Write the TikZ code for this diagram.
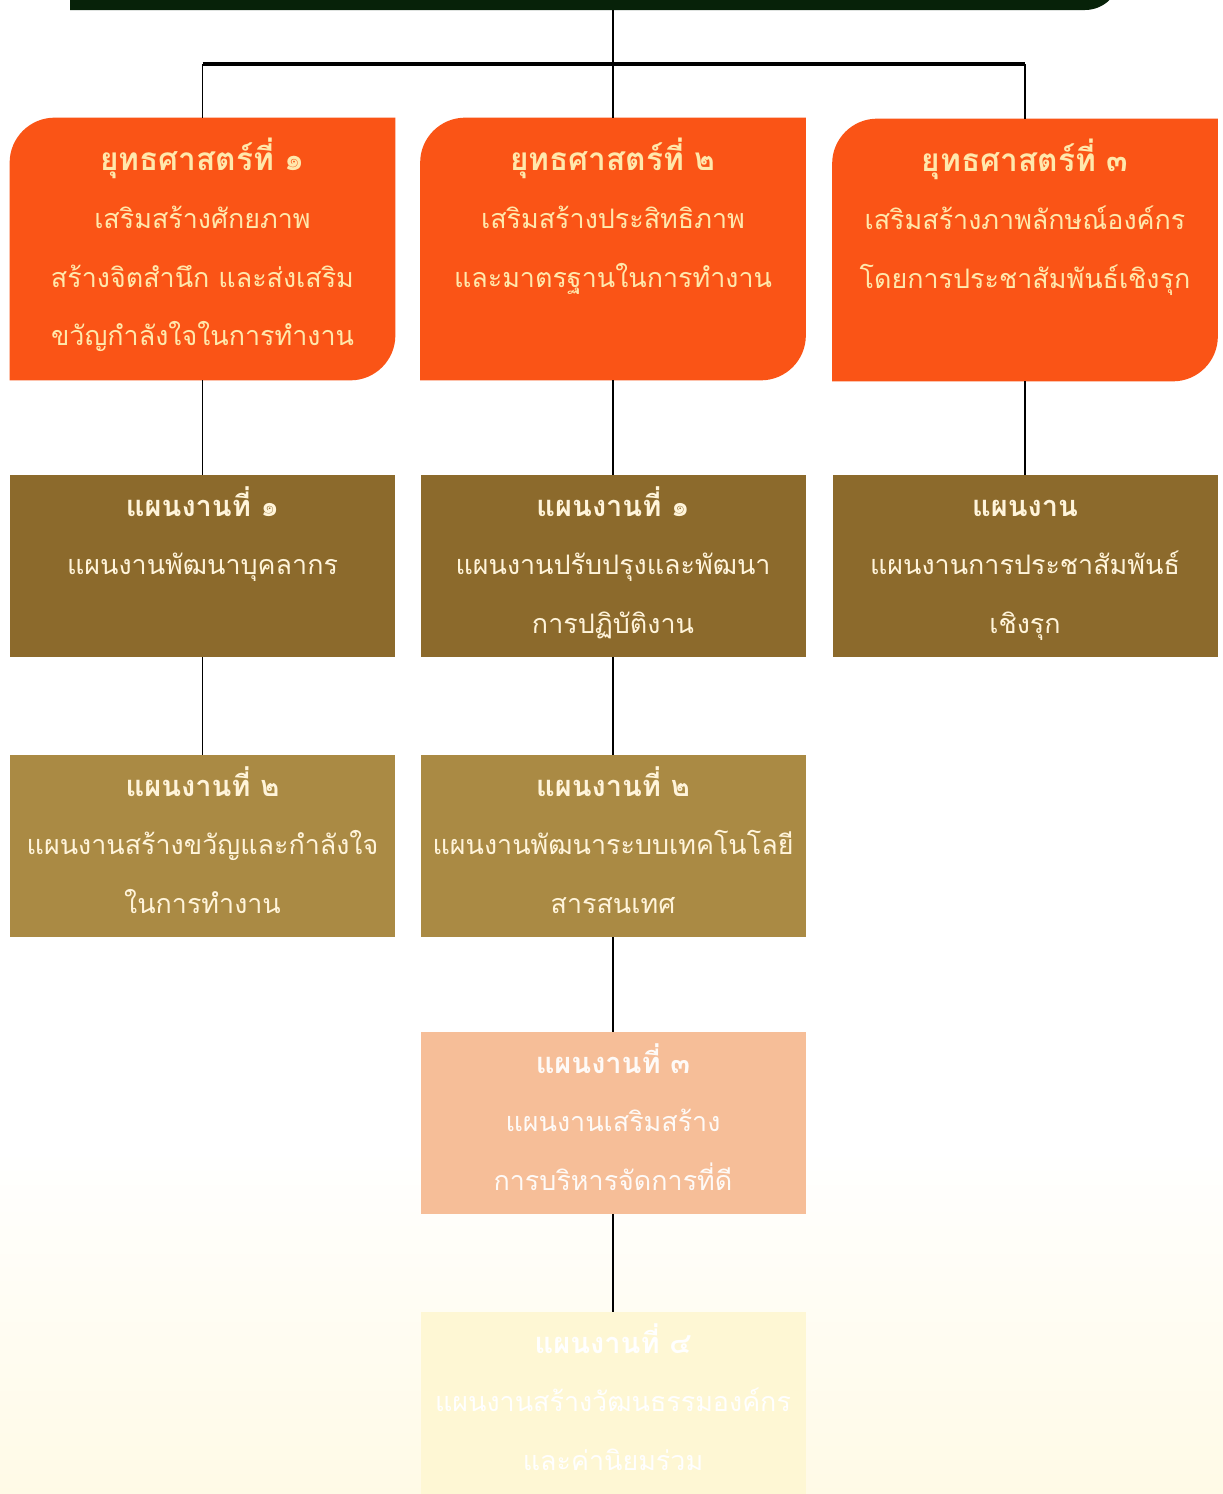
\documentclass[tikz,border=0pt]{standalone}
\usepackage{fontspec}
\newfontfamily\thaifont[Script=Thai]{Loma}
\definecolor{darkgreen}{RGB}{7,34,9}
\definecolor{stratorange}{RGB}{250,84,22}
\definecolor{stratcream}{RGB}{255,232,172}
\definecolor{plancream}{RGB}{255,244,218}
\definecolor{planbrown}{RGB}{140,106,44}
\definecolor{planolive}{RGB}{170,138,68}
\definecolor{planpeach}{RGB}{246,190,152}
\definecolor{planpale}{RGB}{254,247,212}
\definecolor{paperyellow}{RGB}{255,250,230}
\newdimen\px \px=0.02cm
\newcommand\strathead[1]{{\fontsize{18}{33.3}\selectfont\bfseries\rule{0pt}{50\px}#1}}
\newcommand\planhead[1]{{\fontsize{16.5}{33.3}\selectfont\bfseries\rule{0pt}{50\px}#1}}

\begin{document}
\begin{tikzpicture}
[
 x=0.02cm, y=-0.02cm,
 every node/.style ={font=\thaifont\fontsize{15.3}{33.3}\selectfont},
 BOX/.style={rectangle, inner sep=0pt, minimum width=385\px},
 STRAT/.style={BOX, minimum height=262\px},
 PLAN/.style={BOX, minimum height=182\px},
 TXT/.style={anchor=north, align=center, inner sep=0pt},
 LINK/.style={line width=1pt, black},
 BAR/.style={line width=2.8pt, black},
 ]
%
\useasboundingbox (0,0) rectangle (1223,1494);
\fill[white] (0,0) rectangle (1223,1494);
\shade[top color=white, bottom color=paperyellow] (0,1150) rectangle (1223,1494);
%
% top box (title cut off)
\fill[darkgreen] (70,-40) -- (1120,-40) -- (1120,-25)
   arc[start angle=0, end angle=90, radius=35] -- (70,10) -- cycle;
\coordinate (TOP) at (613,10);
\coordinate (HUB) at (613,64);
%
% strategies
\node [STRAT]  (S1)  at ( 202.5, 249)  {};
\node [STRAT]  (S2)  at ( 613,   249)  {};
\node [STRAT]  (S3)  at ( 1025,  250)  {};
\foreach \n in {S1,S2,S3}
  {
    \fill[stratorange] (\n.south west) -- ([yshift=-45\px]\n.north west)
       arc[start angle=180, end angle=270, radius=45] -- (\n.north east)
       -- ([yshift=45\px]\n.south east)
       arc[start angle=0, end angle=90, radius=45] -- cycle;
  }
%
% plans
\node [PLAN, fill=planbrown]  (P11)  at ( 202.5, 566)  {};
\node [PLAN, fill=planolive]  (P12)  at ( 202.5, 846)  {};
\node [PLAN, fill=planbrown]  (P21)  at ( 613,   566)  {};
\node [PLAN, fill=planolive]  (P22)  at ( 613,   846)  {};
\node [PLAN, fill=planpeach]  (P23)  at ( 613,  1123)  {};
\node [PLAN, fill=planpale]   (P24)  at ( 613,  1403)  {};
\node [PLAN, fill=planbrown]  (P31)  at ( 1025,  566)  {};
%
% texts
\node [TXT, text=stratcream] (S1T) at ([yshift=-2\px]S1.north)
  {\strathead{ยุทธศาสตร์ที่ ๑}\\เสริมสร้างศักยภาพ\\สร้างจิตสำนึก และส่งเสริม\\ขวัญกำลังใจในการทำงาน};
\node [TXT, text=stratcream] (S2T) at ([yshift=-2\px]S2.north)
  {\strathead{ยุทธศาสตร์ที่ ๒}\\เสริมสร้างประสิทธิภาพ\\และมาตรฐานในการทำงาน};
\node [TXT, text=stratcream] (S3T) at ([yshift=-2\px]S3.north)
  {\strathead{ยุทธศาสตร์ที่ ๓}\\เสริมสร้างภาพลักษณ์องค์กร\\โดยการประชาสัมพันธ์เชิงรุก};
%
\node [TXT, text=plancream] (P11T) at ([yshift=9\px]P11.north)
  {\planhead{แผนงานที่ ๑}\\แผนงานพัฒนาบุคลากร};
\node [TXT, text=plancream] (P12T) at ([yshift=9\px]P12.north)
  {\planhead{แผนงานที่ ๒}\\แผนงานสร้างขวัญและกำลังใจ\\ในการทำงาน};
\node [TXT, text=plancream] (P21T) at ([yshift=9\px]P21.north)
  {\planhead{แผนงานที่ ๑}\\แผนงานปรับปรุงและพัฒนา\\การปฏิบัติงาน};
\node [TXT, text=plancream] (P22T) at ([yshift=9\px]P22.north)
  {\planhead{แผนงานที่ ๒}\\แผนงานพัฒนาระบบเทคโนโลยี\\สารสนเทศ};
\node [TXT, text=white!92!planpeach] (P23T) at ([yshift=9\px]P23.north)
  {\planhead{แผนงานที่ ๓}\\แผนงานเสริมสร้าง\\การบริหารจัดการที่ดี};
\node [TXT, text=white] (P24T) at ([yshift=9\px]P24.north)
  {\planhead{แผนงานที่ ๔}\\แผนงานสร้างวัฒนธรรมองค์กร\\และค่านิยมร่วม};
\node [TXT, text=plancream] (P31T) at ([yshift=9\px]P31.north)
  {\planhead{แผนงาน}\\แผนงานการประชาสัมพันธ์\\เชิงรุก};
%
% connectors
\draw [LINK]  (TOP)  -- (S2.north) ;
\draw [BAR]   (S1.north |- HUB)  -- (S3.north |- HUB) ;
\draw [LINK]  (S1.north |- HUB)  -- (S1.north) ;
\draw [LINK]  (S3.north |- HUB)  -- (S3.north) ;
%
\draw [LINK]  (S1.south)   -- (P11.north) ;
\draw [LINK]  (P11.south)  -- (P12.north) ;
\draw [LINK]  (S2.south)   -- (P21.north) ;
\draw [LINK]  (P21.south)  -- (P22.north) ;
\draw [LINK]  (P22.south)  -- (P23.north) ;
\draw [LINK]  (P23.south)  -- (P24.north) ;
\draw [LINK]  (S3.south)   -- (P31.north) ;
%
\end{tikzpicture}
\end{document}
